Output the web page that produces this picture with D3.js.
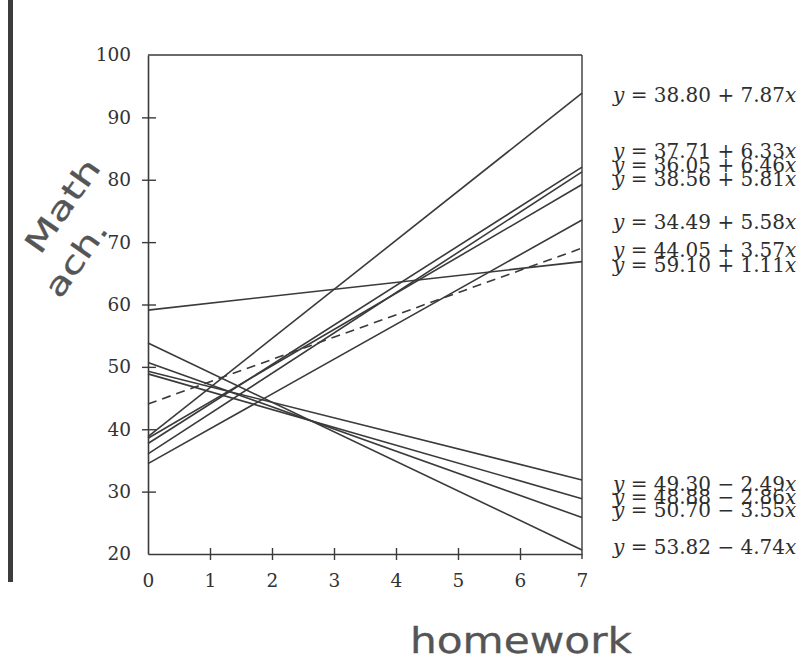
<!DOCTYPE html>
<html>
<head>
<meta charset="utf-8">
<script src="https://cdn.jsdelivr.net/npm/d3@7"></script>
<style>
  html, body { margin: 0; padding: 0; background: #fff; }
  svg { display: block; }
</style>
</head>
<body>
<svg id="chart" width="812" height="664"></svg>
<script>
// ---- data ----
const intercepts = [38.80, 37.71, 36.05, 38.56, 34.49, 44.05, 59.10, 49.30, 48.88, 50.70, 53.82];
const slopes     = [7.87, 6.33, 6.46, 5.81, 5.58, 3.57, 1.11, -2.49, -2.86, -3.55, -4.74];
const dashedLine = [false, false, false, false, false, true, false, false, false, false, false];
const xTicks = [0, 1, 2, 3, 4, 5, 6, 7];
const yTicks = [20, 30, 40, 50, 60, 70, 80, 90, 100];
const xAxisLabel = "homework";
const yAxisLabel = ["Math", "ach."];

// ---- layout ----
const labelY = [95, 151, 165, 179, 222, 250, 265, 484, 497, 510, 547];
const svg = d3.select("#chart");
const x = d3.scaleLinear().domain([0, 7]).range([148, 582]);
const y = d3.scaleLinear().domain([20, 100]).range([554, 55]);
const ink = "#3a3a3a";
const serif = "'DejaVu Serif', 'Liberation Serif', serif";

// scanner edge bar
svg.append("rect").attr("x", 8).attr("y", 0).attr("width", 5).attr("height", 582).attr("fill", "#3c3c3c");

// frame (top and right)
svg.append("line").attr("x1", x(0)).attr("x2", x(7)).attr("y1", y(100)).attr("y2", y(100))
  .attr("stroke", ink).attr("stroke-width", 1.4);
svg.append("line").attr("x1", x(7)).attr("x2", x(7)).attr("y1", y(100)).attr("y2", y(20) + 5)
  .attr("stroke", ink).attr("stroke-width", 1.4);

// axes
const xAxis = d3.axisBottom(x).tickValues(xTicks).tickFormat(d3.format("d")).tickSize(0).tickPadding(20);
const gx = svg.append("g").attr("transform", `translate(0,${y(20)})`).call(xAxis);
const yAxis = d3.axisLeft(y).tickValues(yTicks).tickFormat(d3.format("d")).tickSize(0).tickPadding(17);
const gy = svg.append("g").attr("transform", `translate(${x(0)},0)`).call(yAxis);
[gx, gy].forEach(g => {
  g.select(".domain").attr("stroke", ink).attr("stroke-width", 1.6);
  g.selectAll("text").attr("font-family", serif).attr("font-size", 18.5).attr("fill", "#333");
});
gx.selectAll("text").attr("dy", "0.7em");
// crossing tick marks
gx.selectAll(".tick").filter(d => d > 0 && d < 7).append("line")
  .attr("y1", -6).attr("y2", 6).attr("stroke", ink).attr("stroke-width", 1.4);
gy.selectAll(".tick").filter(d => d > 20 && d < 100).append("line")
  .attr("x1", -6).attr("x2", 8).attr("stroke", ink).attr("stroke-width", 1.4);

// regression lines
const lines = intercepts.map((a, i) => ({ a, b: slopes[i], dashed: dashedLine[i] }));
const lineGen = d3.line().x(d => x(d[0])).y(d => y(d[1]));
svg.append("g").selectAll("path").data(lines).join("path")
  .attr("d", d => lineGen([[0, d.a], [7, d.a + 7 * d.b]]))
  .attr("fill", "none")
  .attr("stroke", ink)
  .attr("stroke-width", 1.6)
  .attr("stroke-dasharray", d => d.dashed ? "9,6" : null);

// equation labels
const fmt = d3.format(".2f");
const lab = svg.append("g").selectAll("text").data(lines).join("text")
  .attr("x", 613)
  .attr("y", (d, i) => labelY[i])
  .attr("dy", "0.35em")
  .attr("font-family", serif)
  .attr("font-size", 20)
  .attr("fill", "#2e2e2e");
lab.append("tspan").attr("font-style", "italic").text("y");
lab.append("tspan").text(d => ` = ${fmt(d.a)} ${d.b < 0 ? "\u2212" : "+"} ${fmt(Math.abs(d.b))}`);
lab.append("tspan").attr("font-style", "italic").text("x");

// handwritten axis titles
const hand = "'DejaVu Sans', 'Noto Sans', sans-serif";
svg.append("text")
  .attr("transform", "translate(40,256) rotate(-55)")
  .attr("font-family", hand).attr("font-size", 30)
  .attr("fill", "#555").attr("stroke", "#555").attr("stroke-width", 0.3)
  .attr("textLength", 108).attr("lengthAdjust", "spacingAndGlyphs")
  .text(yAxisLabel[0]);
svg.append("text")
  .attr("transform", "translate(60,300) rotate(-55)")
  .attr("font-family", hand).attr("font-size", 30)
  .attr("fill", "#555").attr("stroke", "#555").attr("stroke-width", 0.3)
  .attr("textLength", 86).attr("lengthAdjust", "spacingAndGlyphs")
  .text(yAxisLabel[1]);
svg.append("text")
  .attr("x", 410).attr("y", 653)
  .attr("font-family", hand).attr("font-size", 36)
  .attr("fill", "#555").attr("stroke", "#555").attr("stroke-width", 0.3)
  .attr("textLength", 222).attr("lengthAdjust", "spacingAndGlyphs")
  .text(xAxisLabel);
</script>
</body>
</html>
